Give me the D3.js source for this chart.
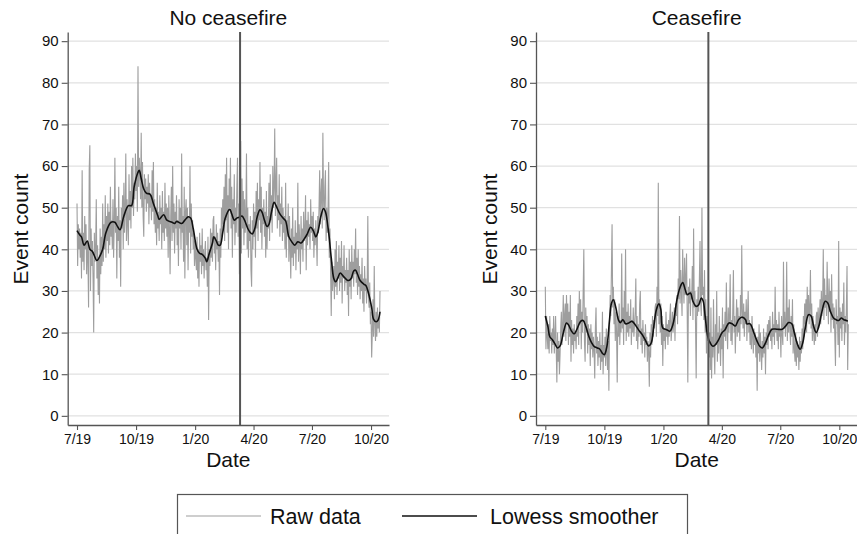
<!DOCTYPE html>
<html>
<head>
<meta charset="utf-8">
<script src="https://cdn.jsdelivr.net/npm/d3@7"></script>
<style>
  body { margin: 0; background: #fff; }
  svg { display: block; font-family: "Liberation Sans", Arial, Helvetica, sans-serif; }
</style>
</head>
<body>
<div id="chart"></div>
<script>
// Daily event counts, one value per day starting 1 July 2019
var startDay = Date.UTC(2019, 6, 1);

var noCeasefireRaw = [
  51,36,46,40,45,38,44,33,59,37,
  44,35,48,40,46,34,42,38,26,59,
  65,30,45,36,42,33,20,44,37,40,
  52,33,41,29,38,27,45,34,43,36,
  51,37,46,40,53,38,48,42,51,39,
  49,41,55,43,47,40,52,38,46,62,
  44,50,33,48,42,55,38,47,31,50,
  45,53,40,56,44,49,63,42,52,46,
  41,58,47,54,45,60,50,62,48,56,
  52,63,54,60,49,84,55,62,58,52,
  68,50,61,48,43,58,52,57,49,55,
  51,58,46,56,50,53,47,59,49,61,
  46,52,44,50,41,56,45,49,42,53,
  46,50,40,54,44,49,42,56,45,51,
  43,50,38,53,45,34,48,55,42,60,
  44,51,39,49,45,53,41,47,36,52,
  45,50,40,63,44,48,37,55,33,49,
  52,41,50,35,48,44,60,39,51,43,
  47,40,44,36,42,38,35,43,33,40,
  31,44,37,41,34,45,36,40,33,39,
  42,35,38,31,43,23,40,36,45,38,
  44,37,47,48,39,43,35,46,40,44,
  37,42,29,45,38,50,43,52,46,55,
  42,58,47,62,44,53,40,57,50,62,
  45,55,38,52,46,58,41,50,44,55,
  62,43,51,34,47,66,39,57,45,54,
  41,52,44,48,63,40,50,38,46,42,
  48,35,31,47,40,51,43,49,38,54,
  45,56,42,52,47,61,44,55,40,50,
  46,52,43,49,38,54,40,48,45,56,
  42,58,47,53,44,60,50,55,69,48,
  56,62,45,53,47,58,43,51,46,55,
  42,50,44,48,40,56,38,47,43,51,
  37,48,40,33,45,38,50,36,43,39,
  47,35,44,40,56,37,46,42,34,48,
  40,45,37,49,42,44,53,35,47,41,
  49,43,46,40,52,44,48,42,49,38,
  45,41,47,43,36,48,44,50,59,46,
  53,57,45,68,52,47,55,59,42,50,
  44,49,61,38,45,35,24,37,30,33,
  36,28,40,31,42,29,37,33,41,30,
  38,32,42,27,36,33,41,30,35,32,
  38,29,35,24,40,31,37,28,41,33,
  37,31,40,34,45,32,38,29,40,31,
  36,28,34,30,38,27,33,25,36,30,
  33,27,31,48,29,26,32,22,25,14,
  20,28,19,36,22,18,25,19,26,21,
  23,20,30
];

var ceasefireRaw = [
  31,16,24,19,16,22,15,24,18,20,
  15,21,17,24,15,19,24,16,8,20,
  13,18,10,15,21,25,17,22,29,19,
  24,27,18,29,22,27,17,25,19,29,
  13,23,17,21,15,22,18,20,16,24,
  19,27,17,30,22,28,16,25,20,30,
  40,18,13,26,20,24,15,22,17,21,
  12,22,16,20,14,19,16,9,21,26,
  15,19,12,18,14,20,11,17,13,25,
  10,17,14,19,12,21,15,11,18,6,
  20,29,24,35,46,26,31,22,28,18,
  25,20,8,24,19,27,17,23,20,39,
  21,26,17,30,22,40,18,25,20,27,
  19,24,21,28,17,23,20,26,19,22,
  25,33,18,24,16,22,19,27,30,17,
  21,15,23,18,20,14,22,17,19,13,
  18,15,7,20,14,22,17,24,19,23,
  21,26,27,19,31,24,56,22,28,20,
  27,17,24,12,22,18,21,16,25,19,
  22,17,23,19,24,27,18,21,25,20,
  22,26,18,27,24,29,22,33,28,48,
  27,35,30,24,40,32,27,38,29,33,
  39,25,8,31,27,33,24,30,28,36,
  23,45,26,30,22,9,28,24,31,25,
  33,42,27,24,50,29,31,23,35,20,
  28,15,24,18,22,14,20,11,26,9,
  19,14,28,16,10,22,17,30,13,20,
  15,24,18,12,21,16,26,9,22,19,
  25,18,32,21,16,26,20,24,34,18,
  23,17,25,35,20,24,15,22,28,19,
  26,20,24,18,29,22,41,25,21,27,
  19,25,22,28,18,24,30,20,23,17,
  22,16,24,19,15,21,17,20,14,18,
  6,19,15,22,13,20,16,11,18,14,
  21,15,19,10,20,17,22,16,23,19,
  24,18,21,16,25,19,22,17,31,20,
  23,18,22,16,25,19,21,14,24,20,
  17,37,21,25,19,23,37,18,26,20,
  28,21,17,24,19,28,15,22,16,13,
  20,12,18,14,17,11,19,13,18,15,
  21,16,24,19,27,22,28,20,31,24,
  29,22,26,35,21,27,18,24,20,17,
  22,18,24,25,19,26,21,23,28,22,
  30,24,27,40,23,33,26,29,24,37,
  28,22,33,25,30,20,34,23,27,21,
  26,19,12,28,22,24,17,42,14,26,
  21,25,18,27,22,32,17,24,20,26,
  36,11,22
];

// Lowess smoother (day offset, value)
var noCeasefireSmoothDay = [0,5,7,11,16,20,24,31,36,40,45,53,59,63,67,73,80,85,89,95,97,100,104,108,114,119,126,128,135,140,148,152,155,163,168,173,177,181,187,191,195,200,202,206,211,213,217,220,223,227,231,238,241,245,249,253,257,261,266,270,273,277,281,285,288,292,296,299,303,307,310,316,321,325,330,335,339,344,349,354,358,364,368,372,375,380,384,387,392,396,400,403,406,410,415,420,423,427,431,434,437,441,447,450,454,459,462,466,469,472];
var noCeasefireSmooth = [44.5,43.3,43,41,42,40,39.5,37.3,38.5,40,44,46.5,46.5,45.5,44.7,48,50.5,50.5,55,58.5,59,57,54.5,53.5,53.2,51,48,47.2,48.3,47,46.5,46.2,46.7,46.2,47,47.8,47.5,45,40,39,38.8,37.8,37,39,41.5,43,42,41,41,44,47.5,49.6,48.5,47,47.5,47.7,48,47,45,44,43.7,45,48,49.5,49,47,45.5,46,49,51.3,50.5,48.5,47.5,46.8,43,41.7,41,41.8,41.5,42.5,43.5,45.3,44.5,43,44,48,49.8,49,44,38,33,32.2,33,34.3,33.5,32.7,32.5,33,34.8,35,34,32.5,31.6,31.3,29.5,26,23.2,22.6,23,25];

var ceasefireSmoothDay = [0,4,7,11,16,19,23,28,33,36,41,45,49,55,59,63,68,72,76,81,85,89,92,96,100,103,106,110,114,117,121,125,130,135,140,145,151,156,161,165,169,173,177,180,183,189,194,197,200,205,210,214,218,221,226,230,235,239,243,246,249,253,257,261,265,270,275,280,286,291,296,301,306,312,314,319,325,330,334,338,343,348,353,361,369,374,379,384,388,393,397,401,405,410,414,418,422,426,431,436,440,444,449,453,457,461,465,469,471];
var ceasefireSmooth = [24,21.5,19,18.3,17,16.3,16.8,19.9,22.3,21.9,20.3,19.7,20.7,22.7,22.9,21.5,19,17.6,16.7,16.3,16,15,14.7,16.7,23,27,27.9,25.9,23,22.4,23.1,22.1,22.3,22.7,21.9,20.7,19.5,18.1,16.8,17.5,21.5,25.5,26.9,25.5,21.1,20.7,20.3,21.1,22.7,27.9,30.9,32,30.3,29.1,29.5,27.5,26.3,26.7,28.3,27.5,23.9,19.1,17.5,16.7,17.1,18.3,19.9,20.7,22.3,22.1,21.6,23.1,23.7,23.1,22.1,22.1,19.9,17.9,16.7,16.3,17.5,19.5,20.8,20.8,20.8,21.5,22.4,22.1,19.9,17.1,16,17.5,21.1,24.3,24,21.5,20,21.5,25.1,27.5,27.1,25.1,23.5,23.1,22.9,23.5,23.1,22.9,22.7];

// axes
var xTickDates = [Date.UTC(2019,6,1), Date.UTC(2019,9,1), Date.UTC(2020,0,1), Date.UTC(2020,3,1), Date.UTC(2020,6,1), Date.UTC(2020,9,1)];
var xTickLabels = ["7/19", "10/19", "1/20", "4/20", "7/20", "10/20"];
var yTicks = [0, 10, 20, 30, 40, 50, 60, 70, 80, 90];
var eventDate = Date.UTC(2020, 2, 11);

var panelTitles = ["No ceasefire", "Ceasefire"];

// Step 1: Set up the chart
//= ================================
var svgWidth = 857;
var svgHeight = 534;

var svg = d3.select("#chart")
  .append("svg")
  .attr("width", svgWidth)
  .attr("height", svgHeight);

var plotTop = 32;
var plotBottom = 425;
var panelLefts = [67.7, 536];
var panelWidth = 321.3;

var yScale = d3.scaleLinear()
  .domain([-2.2, 92.2])
  .range([plotBottom, plotTop]);

function dayDate(d) {
  return new Date(startDay + d * 864e5);
}

function drawPanel(left, title, raw, smoothDays, smooth) {
  var xScale = d3.scaleUtc()
    .domain([new Date(Date.UTC(2019, 5, 16, 12)), new Date(Date.UTC(2020, 9, 29))])
    .range([left, left + panelWidth]);

  var g = svg.append("g");

  // gridlines
  g.selectAll(".grid")
    .data(yTicks)
    .enter()
    .append("line")
    .attr("x1", left)
    .attr("x2", left + panelWidth)
    .attr("y1", d => yScale(d))
    .attr("y2", d => yScale(d))
    .attr("stroke", "#e1e1e1")
    .attr("stroke-width", 1.2);

  // raw data
  var rawLine = d3.line()
    .x((d, i) => xScale(dayDate(i)))
    .y(d => yScale(d));

  g.append("path")
    .datum(raw)
    .attr("d", rawLine)
    .attr("fill", "none")
    .attr("stroke", "#9e9e9e")
    .attr("stroke-width", 1.1);

  // lowess smoother
  var smoothLine = d3.line()
    .x((d, i) => xScale(dayDate(smoothDays[i])))
    .y(d => yScale(d))
    .curve(d3.curveCatmullRom.alpha(0.5));

  g.append("path")
    .datum(smooth)
    .attr("d", smoothLine)
    .attr("fill", "none")
    .attr("stroke", "#111")
    .attr("stroke-width", 1.6);

  // ceasefire call line
  g.append("line")
    .attr("x1", xScale(new Date(eventDate)))
    .attr("x2", xScale(new Date(eventDate)))
    .attr("y1", plotTop)
    .attr("y2", plotBottom)
    .attr("stroke", "#555")
    .attr("stroke-width", 2);

  // axes
  var bottomAxis = d3.axisBottom(xScale)
    .tickValues(xTickDates.map(d => new Date(d)))
    .tickFormat((d, i) => xTickLabels[i])
    .tickSizeInner(5)
    .tickSizeOuter(0)
    .tickPadding(4);

  var leftAxis = d3.axisLeft(yScale)
    .tickValues(yTicks)
    .tickSizeInner(6)
    .tickSizeOuter(0)
    .tickPadding(3);

  var xg = g.append("g")
    .attr("transform", `translate(0, ${plotBottom})`)
    .call(bottomAxis);

  var yg = g.append("g")
    .attr("transform", `translate(${left}, 0)`)
    .call(leftAxis);

  [xg, yg].forEach(function (ax) {
    ax.select(".domain").attr("stroke", "#555").attr("stroke-width", 1.3);
    ax.selectAll(".tick line").attr("stroke", "#555").attr("stroke-width", 1.1);
    ax.selectAll(".tick text")
      .attr("fill", "#111")
      .attr("font-family", "\"Liberation Sans\", Arial, sans-serif");
  });
  xg.selectAll(".tick text").attr("font-size", 14);
  yg.selectAll(".tick text").attr("font-size", 15);

  // titles and labels
  var cx = left + panelWidth / 2;
  g.append("text")
    .attr("x", cx)
    .attr("y", 25)
    .attr("text-anchor", "middle")
    .attr("font-size", 21)
    .attr("fill", "#111")
    .text(title);

  g.append("text")
    .attr("x", cx)
    .attr("y", 467)
    .attr("text-anchor", "middle")
    .attr("font-size", 21)
    .attr("fill", "#111")
    .text("Date");

  g.append("text")
    .attr("transform", `translate(${left - 39.5}, 229) rotate(-90)`)
    .attr("text-anchor", "middle")
    .attr("font-size", 21)
    .attr("fill", "#111")
    .text("Event count");
}

drawPanel(panelLefts[0], panelTitles[0], noCeasefireRaw, noCeasefireSmoothDay, noCeasefireSmooth);
drawPanel(panelLefts[1], panelTitles[1], ceasefireRaw, ceasefireSmoothDay, ceasefireSmooth);

// Legend
var legend = svg.append("g");
legend.append("rect")
  .attr("x", 177.5)
  .attr("y", 494.5)
  .attr("width", 510)
  .attr("height", 60)
  .attr("fill", "none")
  .attr("stroke", "#555")
  .attr("stroke-width", 1.2);

var legendItems = [
  { label: "Raw data", color: "#9e9e9e", width: 1.2, x1: 186, x2: 261, tx: 270 },
  { label: "Lowess smoother", color: "#111", width: 1.6, x1: 402, x2: 477, tx: 490 }
];

legend.selectAll(".lgline")
  .data(legendItems)
  .enter()
  .append("line")
  .attr("x1", d => d.x1)
  .attr("x2", d => d.x2)
  .attr("y1", 516)
  .attr("y2", 516)
  .attr("stroke", d => d.color)
  .attr("stroke-width", d => d.width);

legend.selectAll(".lgtext")
  .data(legendItems)
  .enter()
  .append("text")
  .attr("x", d => d.tx)
  .attr("y", 524)
  .attr("font-size", 21.5)
  .attr("fill", "#111")
  .text(d => d.label);
</script>
</body>
</html>
